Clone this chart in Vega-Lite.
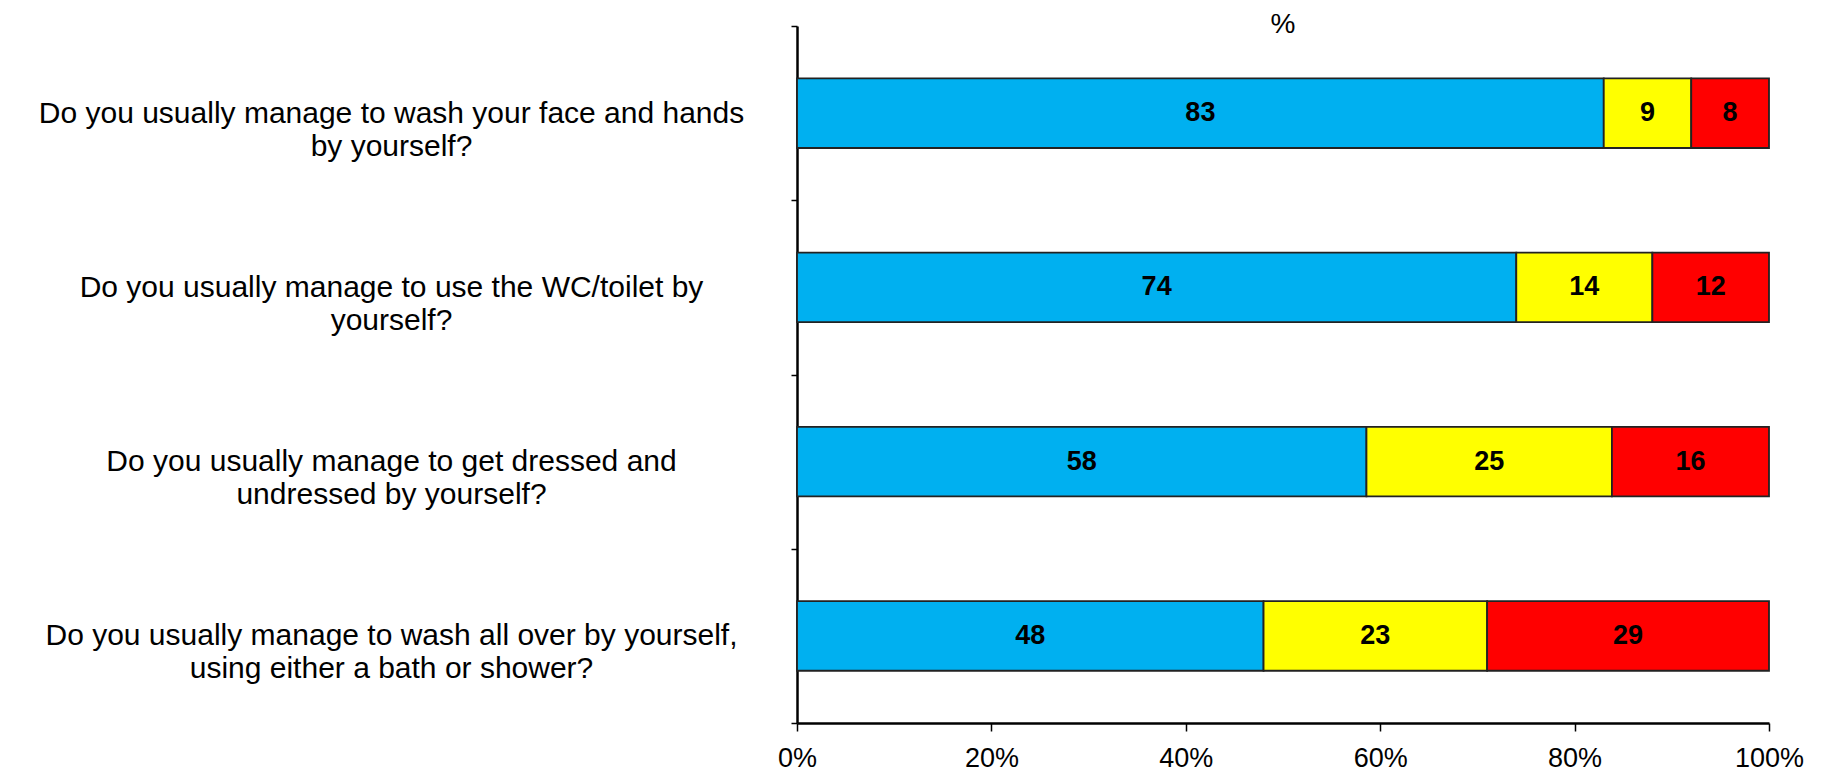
{
  "$schema": "https://vega.github.io/schema/vega-lite/v6.json",
  "width": 972,
  "height": 697,
  "autosize": {"type": "none"},
  "padding": {"left": 797, "top": 26, "right": 60, "bottom": 51},
  "background": "white",
  "config": {"view": {"stroke": null}, "font": "Liberation Sans"},
  "title": {"text": "%", "anchor": "middle", "frame": "group", "fontSize": 28, "fontWeight": "normal", "font": "Liberation Sans", "offset": -28, "color": "black"},
  "data": {"values": [
    {"q": "Do you usually manage to wash your face and hands|by yourself?", "resp": "Yes", "order": 1, "value": 83},
    {"q": "Do you usually manage to wash your face and hands|by yourself?", "resp": "With difficulty", "order": 2, "value": 9},
    {"q": "Do you usually manage to wash your face and hands|by yourself?", "resp": "No", "order": 3, "value": 8},
    {"q": "Do you usually manage to use the WC/toilet by|yourself?", "resp": "Yes", "order": 1, "value": 74},
    {"q": "Do you usually manage to use the WC/toilet by|yourself?", "resp": "With difficulty", "order": 2, "value": 14},
    {"q": "Do you usually manage to use the WC/toilet by|yourself?", "resp": "No", "order": 3, "value": 12},
    {"q": "Do you usually manage to get dressed and|undressed by yourself?", "resp": "Yes", "order": 1, "value": 58},
    {"q": "Do you usually manage to get dressed and|undressed by yourself?", "resp": "With difficulty", "order": 2, "value": 25},
    {"q": "Do you usually manage to get dressed and|undressed by yourself?", "resp": "No", "order": 3, "value": 16},
    {"q": "Do you usually manage to wash all over by yourself,|using either a bath or shower?", "resp": "Yes", "order": 1, "value": 48},
    {"q": "Do you usually manage to wash all over by yourself,|using either a bath or shower?", "resp": "With difficulty", "order": 2, "value": 23},
    {"q": "Do you usually manage to wash all over by yourself,|using either a bath or shower?", "resp": "No", "order": 3, "value": 29}
  ]},
  "encoding": {
    "y": {
      "field": "q", "type": "nominal", "sort": null,
      "scale": {"paddingInner": 0, "paddingOuter": 0},
      "axis": {
        "title": null, "tickBand": "extent", "labelExpr": "split(datum.label, '|')",
        "labelAlign": "center", "labelBaseline": "middle", "labelPadding": 400, "labelFontSize": 30,
        "labelLineHeight": 33, "labelColor": "black", "labelLimit": 0,
        "domainColor": "black", "domainWidth": 2.5, "tickColor": "black", "tickWidth": 1.5, "tickSize": 6
      }
    }
  },
  "layer": [
    {
      "mark": {"type": "bar", "stroke": "#222222", "strokeWidth": 1.8, "height": {"band": 0.4}},
      "encoding": {
        "x": {
          "field": "value", "type": "quantitative", "stack": "normalize",
          "scale": {"domain": [0, 1]},
          "axis": {
            "title": null, "values": [0, 0.2, 0.4, 0.6, 0.8, 1], "format": ".0%", "grid": false,
            "labelFontSize": 27, "labelColor": "black", "labelPadding": 14, "labelFlush": false,
            "domainColor": "black", "domainWidth": 2.5, "tickColor": "black", "tickWidth": 1.5, "tickSize": 8
          }
        },
        "color": {
          "field": "resp", "type": "nominal", "legend": null,
          "scale": {"domain": ["Yes", "With difficulty", "No"], "range": ["#00B0F0", "#FFFF00", "#FF0000"]}
        },
        "order": {"field": "order"}
      }
    },
    {
      "mark": {"type": "text", "fontWeight": "bold", "fontSize": 27, "color": "black", "font": "Liberation Sans"},
      "encoding": {
        "x": {
          "field": "value", "type": "quantitative", "stack": "normalize", "bandPosition": 0.5,
          "scale": {"domain": [0, 1]},
          "axis": {
            "title": null, "values": [0, 0.2, 0.4, 0.6, 0.8, 1], "format": ".0%", "grid": false,
            "labelFontSize": 27, "labelColor": "black", "labelPadding": 14, "labelFlush": false,
            "domainColor": "black", "domainWidth": 2.5, "tickColor": "black", "tickWidth": 1.5, "tickSize": 8
          }
        },
        "text": {"field": "value"},
        "detail": {"field": "resp"},
        "order": {"field": "order"}
      }
    }
  ]
}
